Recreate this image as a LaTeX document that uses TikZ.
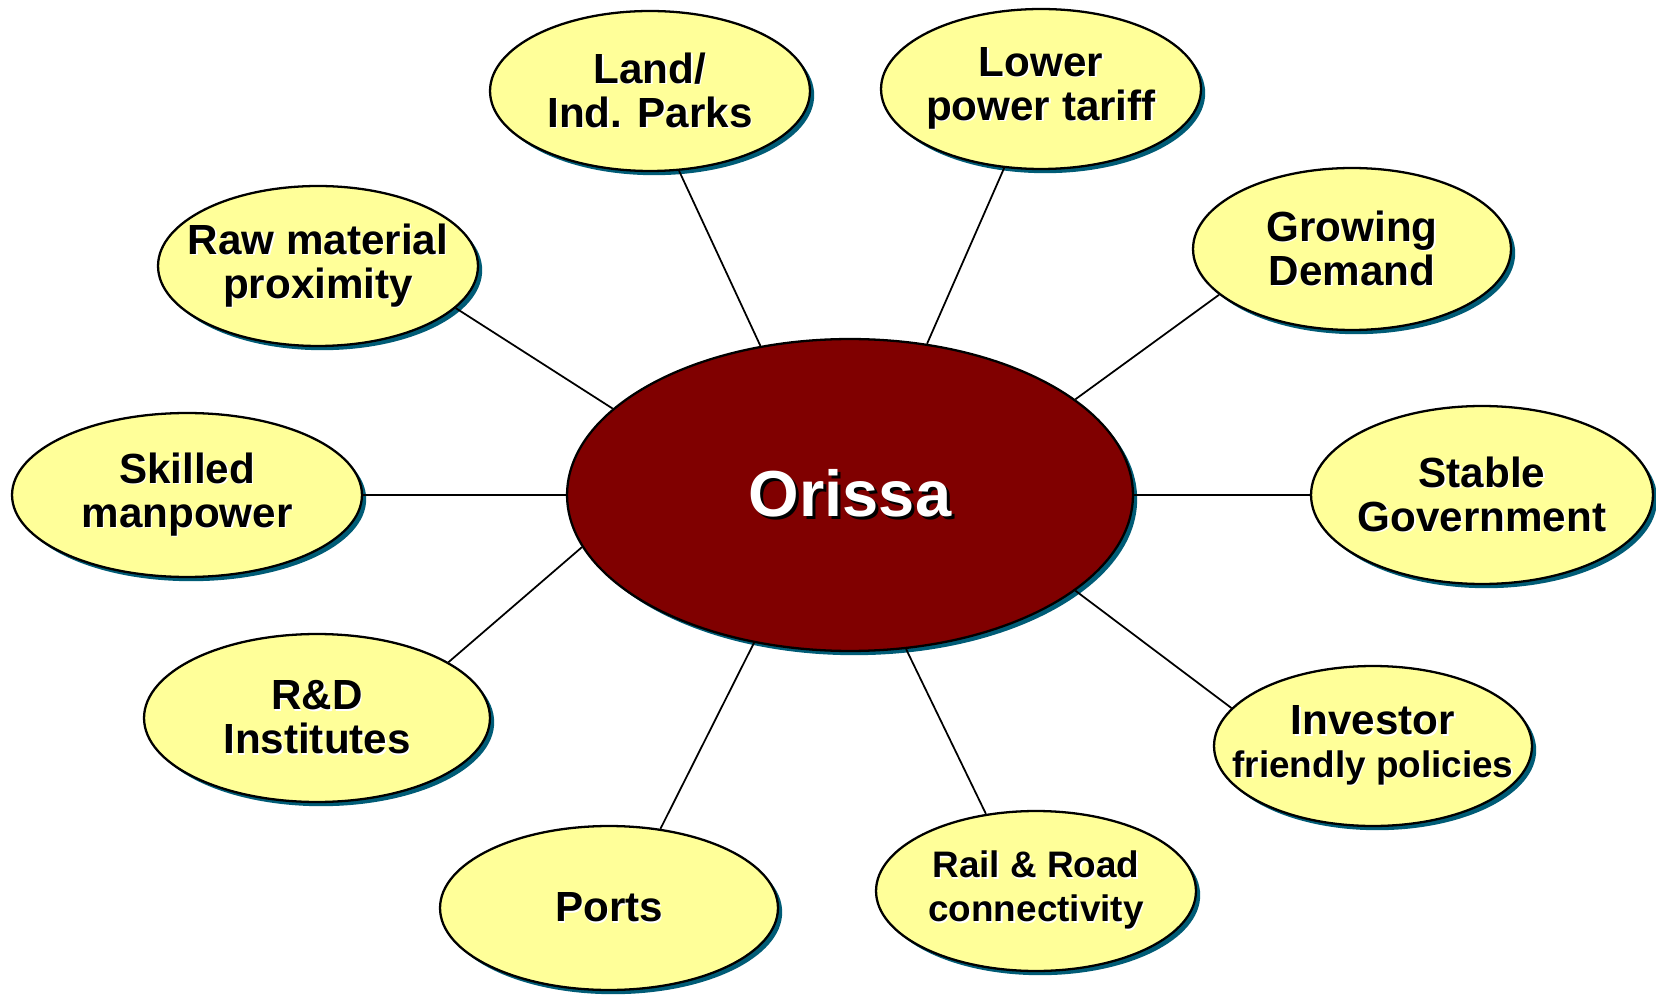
\documentclass[tikz,border=0pt]{standalone}
\usepackage{fontspec}
\setmainfont{Liberation Sans}
\usepackage{xcolor}
\usepackage{tikz}
\usetikzlibrary{shapes.geometric,shadows}

\definecolor{bubbleyellow}{RGB}{255,255,153}
\definecolor{hubred}{RGB}{128,0,0}
\definecolor{shadowteal}{RGB}{0,92,118}

% text with a small offset shadow behind it
\newcommand{\shadowed}[3]{\makebox[0pt][l]{\kern#3\raisebox{-#3}{\color{#1}#2}}#2}
\newcommand{\lbl}[1]{\shadowed{white}{#1}{0.8pt}}

\begin{document}
\begin{tikzpicture}[x=0.02cm,y=-0.02cm,
      bubble/.style={
         ellipse,
         draw=black,
         line width=1.3pt,
         fill=bubbleyellow,
         drop shadow={shadow xshift=2.4pt,shadow yshift=-2.4pt,fill=shadowteal,opacity=1},
         inner xsep=-18pt,
         inner ysep=0pt,
         align=center,
         font=\bfseries\fontsize{24}{25}\selectfont},
      hub/.style={
         bubble,
         fill=hubred,
         text=white,
         font=\bfseries\fontsize{37}{40}\selectfont},
      spoke/.style={
         line width=1pt,
         draw=black}
]
      \useasboundingbox (0,0) rectangle (1656,996);

      %centre
      \node[hub,minimum width=11.32cm,minimum height=6.24cm] (orissa) at (850,495)
         {\shadowed{black}{Orissa}{1.7pt}};

      %outer ring
      \node[bubble,minimum width=6.4cm,minimum height=3.2cm] (land) at (650,91)
         {\lbl{Land/}\\\lbl{Ind. Parks}};
      \node[bubble,minimum width=6.4cm,minimum height=3.2cm] (tariff) at (1041,89)
         {\lbl{Lower}\\\lbl{power tariff}};
      \node[bubble,minimum width=6.36cm,minimum height=3.24cm] (demand) at (1352,249)
         {\lbl{Growing}\\\lbl{Demand}};
      \node[bubble,minimum width=6.84cm,minimum height=3.56cm] (govt) at (1482,495)
         {\lbl{Stable}\\\lbl{Government}};
      \node[bubble,minimum width=6.36cm,minimum height=3.2cm] (investor) at (1373,746)
         {\lbl{Investor}\\[-1pt]{\fontsize{21}{22}\selectfont\lbl{friendly policies}}};
      \node[bubble,minimum width=6.4cm,minimum height=3.2cm,
            font=\bfseries\fontsize{21}{25}\selectfont] (rail) at (1036,891)
         {\lbl{Rail \& Road}\\\lbl{connectivity}};
      \node[bubble,minimum width=6.76cm,minimum height=3.28cm] (ports) at (609,908)
         {\lbl{Ports}};
      \node[bubble,minimum width=6.92cm,minimum height=3.36cm] (rnd) at (317,718)
         {\lbl{R\&D}\\\lbl{Institutes}};
      \node[bubble,minimum width=7cm,minimum height=3.28cm] (skilled) at (187,495)
         {\lbl{Skilled}\\\lbl{manpower}};
      \node[bubble,minimum width=6.4cm,minimum height=3.2cm] (raw) at (318,266)
         {\lbl{Raw material}\\\lbl{proximity}};

    \foreach \i/\j in {% outer node/centre
      raw.343/orissa.160,
      land.290/orissa.121,
      tariff.245/orissa.63,
      demand.199/orissa.23,
      govt.west/orissa.east,
      investor.165/orissa.337,
      rail.123/orissa.290,
      ports.57/orissa.237,
      rnd.23/orissa.191,
      skilled.east/orissa.west}
      \draw [spoke] (\i) -- (\j);
\end{tikzpicture}
\end{document}
